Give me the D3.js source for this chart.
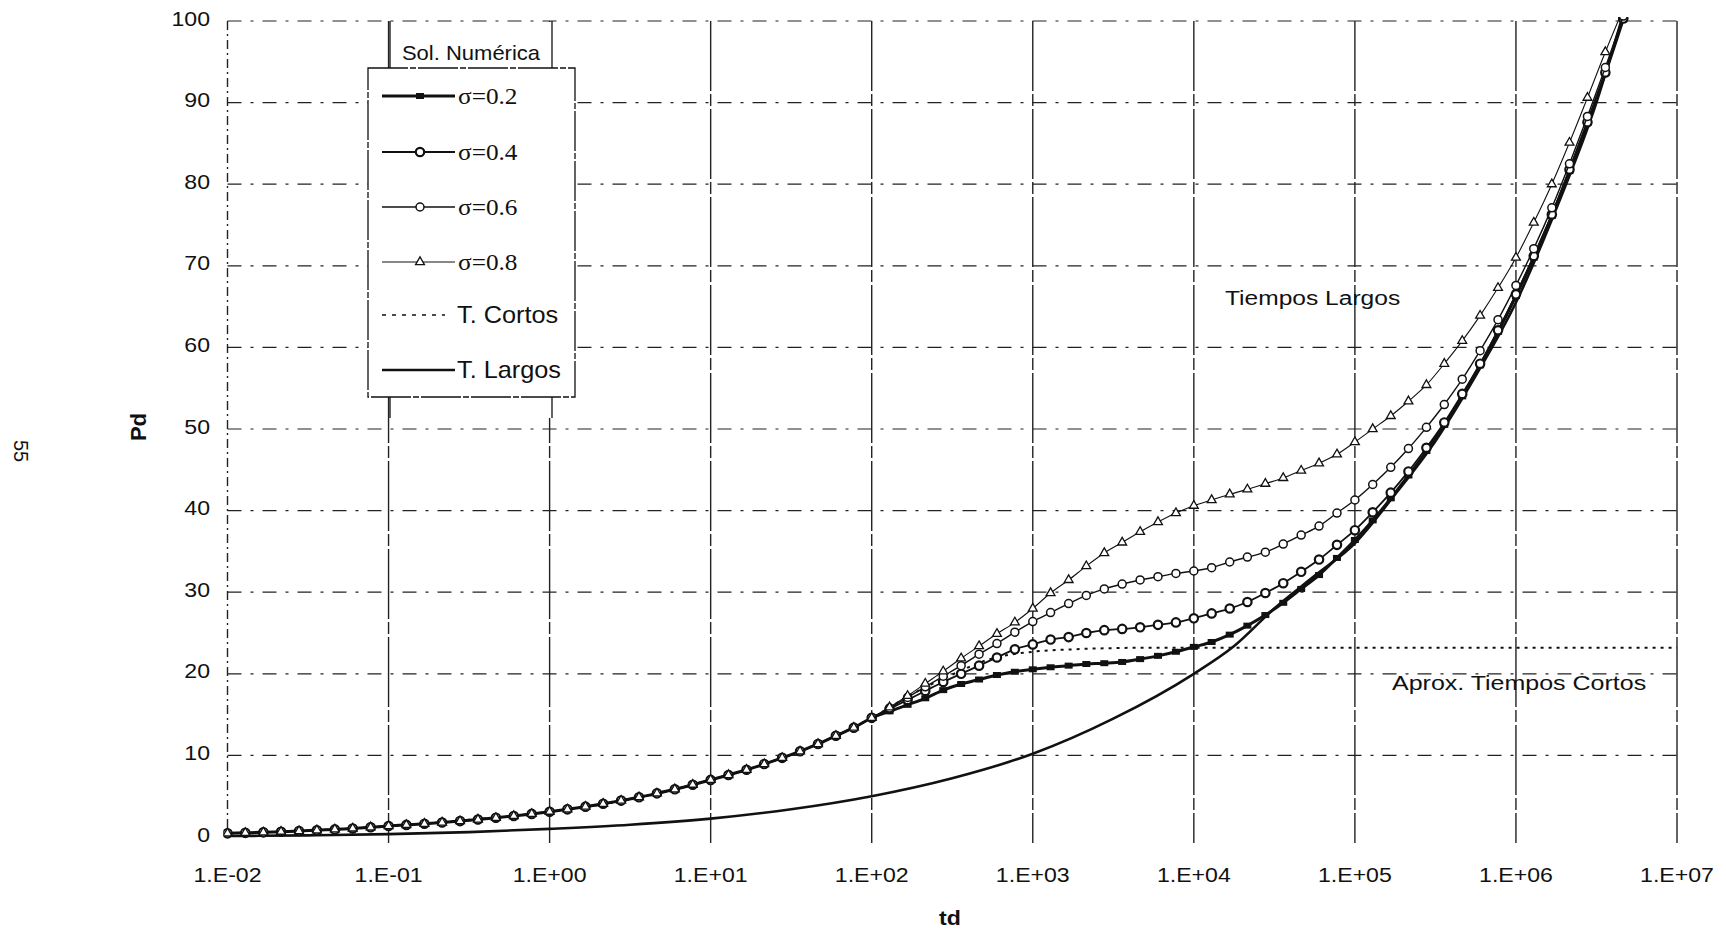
<!DOCTYPE html>
<html>
<head>
<meta charset="utf-8">
<script src="https://cdnjs.cloudflare.com/ajax/libs/d3/7.8.5/d3.min.js"></script>
<style>
body { margin: 0; background: #fff; }
svg { display: block; }
</style>
</head>
<body>
<div id="chart"></div>
<script>
"use strict";

// data
// td of the numerical solution points (markers every 1/9 decade)
const tdNum = [
    0.01, 0.0129, 0.0167, 0.0215, 0.0278, 0.0359, 0.0464, 0.0599, 0.0774,
    0.1, 0.129, 0.167, 0.215, 0.278, 0.359, 0.464, 0.599, 0.774,
    1, 1.29, 1.67, 2.15, 2.78, 3.59, 4.64, 5.99, 7.74,
    10, 12.9, 16.7, 21.5, 27.8, 35.9, 46.4, 59.9, 77.4,
    100, 129, 167, 215, 278, 359, 464, 599, 774,
    1000, 1290, 1670, 2150, 2780, 3590, 4640, 5990, 7740,
    1e4, 1.29e4, 1.67e4, 2.15e4, 2.78e4, 3.59e4, 4.64e4, 5.99e4, 7.74e4,
    1e5, 1.29e5, 1.67e5, 2.15e5, 2.78e5, 3.59e5, 4.64e5, 5.99e5, 7.74e5,
    1e6, 1.29e6, 1.67e6, 2.15e6, 2.78e6, 3.59e6, 4.64e6
];

// Pd shared by all sigma curves up to td = 100
const pdEarly = [
    0.45, 0.51, 0.57, 0.65, 0.73, 0.83, 0.93, 1.05, 1.19,
    1.35, 1.48, 1.62, 1.78, 1.95, 2.14, 2.35, 2.58, 2.83,
    3.10, 3.39, 3.72, 4.07, 4.46, 4.88, 5.35, 5.85, 6.41,
    7.00, 7.60, 8.24, 8.94, 9.70, 10.5, 11.4, 12.4, 13.4,
    14.6
];

// Pd of each sigma curve from td = 129 on
const pdSigma02 = [
    15.4, 16.2, 17.0, 18.0, 18.75, 19.3, 19.85, 20.25, 20.55, 20.8,
    21.0, 21.2, 21.3, 21.45, 21.8, 22.2, 22.7, 23.3, 23.9, 24.8,
    25.9, 27.2, 28.7, 30.4, 32.1, 34.2, 36.4, 38.8, 41.5, 44.3,
    47.3, 50.5, 54.0, 57.8, 61.9, 66.3, 71.0, 76.1, 81.6, 87.5,
    93.6, 100.2
];
const pdSigma04 = [
    15.7, 16.8, 17.9, 19.0, 20.0, 21.0, 22.0, 23.0, 23.6, 24.2,
    24.5, 25.0, 25.35, 25.5, 25.7, 26.0, 26.3, 26.8, 27.4, 28.0,
    28.8, 29.9, 31.1, 32.5, 34.0, 35.8, 37.6, 39.8, 42.2, 44.8,
    47.7, 50.8, 54.3, 58.0, 62.1, 66.5, 71.2, 76.3, 81.8, 87.6,
    93.7, 100.3
];
const pdSigma06 = [
    15.8, 17.1, 18.4, 19.7, 21.0, 22.4, 23.7, 25.1, 26.4, 27.5,
    28.6, 29.6, 30.4, 31.0, 31.5, 31.9, 32.3, 32.6, 33.0, 33.7,
    34.3, 34.9, 35.9, 37.0, 38.1, 39.7, 41.3, 43.2, 45.3, 47.6,
    50.2, 53.0, 56.1, 59.6, 63.4, 67.6, 72.1, 77.1, 82.5, 88.3,
    94.3, 100.6
];
const pdSigma08 = [
    15.9, 17.3, 18.8, 20.3, 21.9, 23.4, 24.9, 26.3, 28.0, 29.9,
    31.5, 33.2, 34.8, 36.1, 37.4, 38.6, 39.7, 40.6, 41.3, 42.0,
    42.6, 43.3, 44.0, 44.9, 45.8, 46.9, 48.4, 50.0, 51.6, 53.4,
    55.4, 58.0, 60.8, 63.9, 67.3, 71.0, 75.3, 80.0, 85.1, 90.6,
    96.2, 101.5
];

// short time approximation
const tdCortos = [0.01, 0.0316, 0.1, 0.316, 1, 3.16, 10, 31.6, 100, 178, 316, 562, 1000, 1780, 3160, 5620, 1e4, 1e5, 1e6, 1e7];
const pdCortos = [0.45, 0.78, 1.35, 2.1, 3.1, 4.6, 7.0, 10.1, 14.6, 17.5, 19.9, 21.9, 22.7, 23.0, 23.15, 23.2, 23.2, 23.2, 23.2, 23.2];

// long time approximation
const tdLargos = [0.01, 0.0316, 0.1, 0.316, 1, 3.16, 10, 31.6, 100, 316, 1000, 3160, 1e4, 1.78e4, 3.16e4, 5.62e4, 1e5, 1.78e5, 3.16e5, 5.62e5, 1e6, 1.78e6, 3.16e6, 4.5e6];
const pdLargos = [0.12, 0.2, 0.35, 0.6, 1.0, 1.5, 2.25, 3.4, 5.0, 7.2, 10.2, 14.5, 20.0, 23.4, 28.0, 32.0, 36.0, 42.0, 48.5, 56.5, 65.5, 77.0, 90.0, 100];

// ticks
const xTicks = [1e-2, 1e-1, 1e0, 1e1, 1e2, 1e3, 1e4, 1e5, 1e6, 1e7];
const xTickLabels = ["1.E-02", "1.E-01", "1.E+00", "1.E+01", "1.E+02", "1.E+03", "1.E+04", "1.E+05", "1.E+06", "1.E+07"];
const yTicks = [0, 10, 20, 30, 40, 50, 60, 70, 80, 90, 100];



// setting
const setting = {
    width: 1726,
    height: 929,
    plot: {left: 227.5, right: 1677, top: 21, bottom: 837},
    sans: "'Liberation Sans', Arial, sans-serif",
    serif: "'Liberation Serif', 'Times New Roman', serif",
    stretch: 1.1,
    ink: "#111"
};



// svg
let svg = d3.select("#chart")
.append("svg")
.attr("width", setting.width)
.attr("height", setting.height);

svg.append("rect")
.attr("width", setting.width)
.attr("height", setting.height)
.attr("fill", "#fff");

svg.append("defs")
.append("clipPath")
.attr("id", "plotClip")
.append("rect")
.attr("x", setting.plot.left - 4)
.attr("y", setting.plot.top - 4)
.attr("width", setting.plot.right - setting.plot.left + 8)
.attr("height", setting.plot.bottom - setting.plot.top + 12);



// scales
let scaleX = d3.scaleLog()
.domain([1e-2, 1e7])
.range([setting.plot.left, setting.plot.right]);

let scaleY = d3.scaleLinear()
.domain([0, 100])
.range([setting.plot.bottom, setting.plot.top]);



// text helper (the scan is slightly stretched horizontally)
function addText(parent, x, y, str, size, anchor, family, weight, stretch) {
    return parent.append("text")
    .attr("transform", `translate(${x}, ${y}) scale(${stretch || setting.stretch}, 1)`)
    .attr("text-anchor", anchor || "start")
    .attr("font-family", family || setting.sans)
    .attr("font-weight", weight || "normal")
    .attr("font-size", size)
    .attr("fill", setting.ink)
    .text(str);
}



// grid lines
let grid = svg.append("g").attr("class", "grid");

grid.selectAll("line.h")
.data(yTicks.filter(v => v > 0))
.enter()
.append("line")
.attr("class", "h")
.attr("x1", setting.plot.left)
.attr("x2", setting.plot.right)
.attr("y1", d => scaleY(d))
.attr("y2", d => scaleY(d))
.attr("stroke", "#222")
.attr("stroke-width", 1.2)
.attr("stroke-dasharray", "14,9,3,9");

grid.selectAll("line.v")
.data(xTicks.filter(v => v > 1e-2))
.enter()
.append("line")
.attr("class", "v")
.attr("x1", d => scaleX(d))
.attr("x2", d => scaleX(d))
.attr("y1", setting.plot.top)
.attr("y2", setting.plot.bottom + 6)
.attr("stroke", "#222")
.attr("stroke-width", 1.4)
.attr("stroke-dasharray", "70,3,12,3");

// left axis
svg.append("line")
.attr("x1", setting.plot.left)
.attr("x2", setting.plot.left)
.attr("y1", setting.plot.top)
.attr("y2", setting.plot.bottom)
.attr("stroke", "#222")
.attr("stroke-width", 1.4)
.attr("stroke-dasharray", "9,4,2,4");



// axis labels
let axis = svg.append("g").attr("class", "axis");

yTicks.forEach(v => {
    addText(axis, 210, scaleY(v) + 4.5, v, 21, "end");
});

xTicks.forEach((v, i) => {
    addText(axis, scaleX(v), 882, xTickLabels[i], 21, "middle");
});

addText(axis, 950, 925, "td", 21, "middle", setting.sans, "bold");

axis.append("text")
.attr("transform", "translate(146, 427) rotate(-90)")
.attr("text-anchor", "middle")
.attr("font-family", setting.sans)
.attr("font-weight", "bold")
.attr("font-size", 22)
.attr("fill", setting.ink)
.text("Pd");

// page number of the scanned sheet
axis.append("text")
.attr("transform", "translate(14, 451) rotate(90)")
.attr("text-anchor", "middle")
.attr("font-family", setting.sans)
.attr("font-size", 20)
.attr("fill", setting.ink)
.text("55");



// series
const numSeries = [
    {label: "σ=0.2", pd: pdEarly.concat(pdSigma02), lineWidth: 3, marker: "square"},
    {label: "σ=0.4", pd: pdEarly.concat(pdSigma04), lineWidth: 1.8, marker: "boldCircle"},
    {label: "σ=0.6", pd: pdEarly.concat(pdSigma06), lineWidth: 1.4, marker: "circle"},
    {label: "σ=0.8", pd: pdEarly.concat(pdSigma08), lineWidth: 1.1, marker: "triangle"}
];

let line = d3.line()
.x(d => scaleX(d.td))
.y(d => scaleY(d.pd))
.curve(d3.curveMonotoneX);

let curves = svg.append("g")
.attr("class", "curves")
.attr("clip-path", "url(#plotClip)");

// approximations
curves.append("path")
.datum(tdLargos.map((t, i) => ({td: t, pd: pdLargos[i]})))
.attr("d", line)
.attr("fill", "none")
.attr("stroke", setting.ink)
.attr("stroke-width", 2.6);

curves.append("path")
.datum(tdCortos.map((t, i) => ({td: t, pd: pdCortos[i]})))
.attr("d", line)
.attr("fill", "none")
.attr("stroke", setting.ink)
.attr("stroke-width", 2)
.attr("stroke-dasharray", "3,5");

// marker drawing
function drawMarker(sel, type) {
    if(type == "square") {
        sel.append("rect")
        .attr("x", -4)
        .attr("y", -3)
        .attr("width", 8)
        .attr("height", 6)
        .attr("fill", setting.ink);
    }
    else if(type == "boldCircle") {
        sel.append("circle")
        .attr("r", 4.2)
        .attr("fill", "#fff")
        .attr("stroke", setting.ink)
        .attr("stroke-width", 2.2);
    }
    else if(type == "circle") {
        sel.append("circle")
        .attr("r", 4)
        .attr("fill", "#fff")
        .attr("stroke", setting.ink)
        .attr("stroke-width", 1.5);
    }
    else {
        sel.append("path")
        .attr("d", d3.symbol(d3.symbolTriangle, 34))
        .attr("fill", "#fff")
        .attr("stroke", setting.ink)
        .attr("stroke-width", 1.3);
    }
}

// numerical solutions
numSeries.forEach(s => {
    let pts = tdNum.map((t, i) => ({td: t, pd: s.pd[i]}));

    curves.append("path")
    .datum(pts)
    .attr("d", line)
    .attr("fill", "none")
    .attr("stroke", setting.ink)
    .attr("stroke-width", s.lineWidth);

    curves.append("g")
    .selectAll("g")
    .data(pts)
    .enter()
    .append("g")
    .attr("transform", d => `translate(${scaleX(d.td)}, ${scaleY(d.pd)})`)
    .each(function() {
        drawMarker(d3.select(this), s.marker);
    });
});



// annotations
addText(svg, 1225, 305, "Tiempos Largos", 21, "start", setting.sans, "normal", 1.17);
addText(svg, 1392, 690, "Aprox. Tiempos Cortos", 21, "start", setting.sans, "normal", 1.19);



// legend
let legend = svg.append("g").attr("class", "legend");

// title box behind the legend: only its sides show
legend.append("rect")
.attr("x", 390)
.attr("y", setting.plot.top + 1)
.attr("width", 162)
.attr("height", 396)
.attr("fill", "#fff");

[390, 552].forEach(x => {
    legend.append("line")
    .attr("x1", x)
    .attr("x2", x)
    .attr("y1", setting.plot.top)
    .attr("y2", 418)
    .attr("stroke", setting.ink)
    .attr("stroke-width", 1.3);
});

legend.append("rect")
.attr("x", 368)
.attr("y", 68)
.attr("width", 207)
.attr("height", 329)
.attr("fill", "#fff")
.attr("stroke", setting.ink)
.attr("stroke-width", 1.3)
.attr("stroke-dasharray", "40,2,6,2");

addText(legend, 471, 60, "Sol. Numérica", 20, "middle");

const legendRows = [96, 152, 207, 262, 315, 370];

numSeries.forEach((s, i) => {
    let y = legendRows[i];
    legend.append("line")
    .attr("x1", 382)
    .attr("x2", 455)
    .attr("y1", y)
    .attr("y2", y)
    .attr("stroke", setting.ink)
    .attr("stroke-width", s.lineWidth);
    let m = legend.append("g").attr("transform", `translate(420, ${y})`);
    drawMarker(m, s.marker);
    addText(legend, 458, y + 8, s.label, 23, "start", setting.serif);
});

legend.append("line")
.attr("x1", 382)
.attr("x2", 445)
.attr("y1", legendRows[4])
.attr("y2", legendRows[4])
.attr("stroke", setting.ink)
.attr("stroke-width", 1.6)
.attr("stroke-dasharray", "4,6");
addText(legend, 457, legendRows[4] + 8, "T. Cortos", 23, "start");

legend.append("line")
.attr("x1", 382)
.attr("x2", 455)
.attr("y1", legendRows[5])
.attr("y2", legendRows[5])
.attr("stroke", setting.ink)
.attr("stroke-width", 2.4);
addText(legend, 457, legendRows[5] + 8, "T. Largos", 23, "start");
</script>
</body>
</html>
